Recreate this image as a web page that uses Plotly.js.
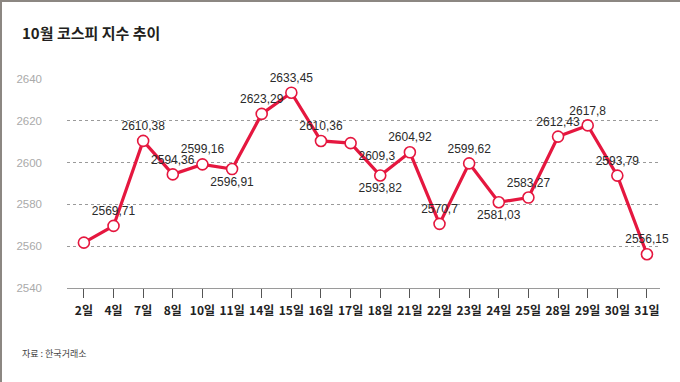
<!DOCTYPE html>
<html><head><meta charset="utf-8">
<script src="https://cdn.plot.ly/plotly-3.0.1.min.js"></script>
<style>
html,body{margin:0;padding:0;background:#fff;}
#wrap{position:relative;width:680px;height:382px;overflow:hidden;}
#chart{position:absolute;left:0;top:0;width:680px;height:382px;}
#frame{position:absolute;left:0;top:0;width:680px;height:382px;box-sizing:border-box;border-left:2px solid #8c8782;border-top:2px solid #8c8782;pointer-events:none;}
</style></head>
<body><div id="wrap"><div id="chart"></div><div id="frame"></div></div>
<script>
const days = ['2일','4일','7일','8일','10일','11일','14일','15일','16일','17일','18일','21일','22일','23일','24일','25일','28일','29일','30일','31일'];
const kospi = [2561.69,2569.71,2610.38,2594.36,2599.16,2596.91,2623.29,2633.45,2610.36,2609.3,2593.82,2604.92,2570.7,2599.62,2581.03,2583.27,2612.43,2617.8,2593.79,2556.15];
const showLabel = [false,true,true,true,true,true,true,true,true,true,true,true,true,true,true,true,true,true,true,true];
const labelPos = ['top center','top center','top center','top center','top center','bottom center','top center','top center','top center','bottom right','bottom center','top center','top center','top center','bottom center','top center','top center','top center','top center','top center'];
const yTicks = [2540,2560,2580,2600,2620,2640];

const labels = kospi.map((v,i)=> showLabel[i] ? String(v).replace('.', ',') : '');
const red = '#e5173f';
const numFont = 'Liberation Sans, Arial, "Noto Sans CJK KR", sans-serif';

const trace = {
  x: days, y: kospi, type:'scatter', mode:'lines+markers+text',
  line:{color:red, width:3.2},
  marker:{size:11, color:'#ffffff', line:{color:red, width:1.6}},
  text: labels, textposition: labelPos,
  textfont:{family:numFont, size:12, color:'#2a2a2a'},
  cliponaxis:false, hoverinfo:'skip'
};

const layout = {
  width:680, height:382,
  margin:{l:67, r:20, t:79, b:94},
  paper_bgcolor:'#ffffff', plot_bgcolor:'#ffffff',
  showlegend:false,
  font:{family:'"Noto Sans CJK KR", sans-serif'},
  xaxis:{
    type:'category', range:[-0.57, 19.44], fixedrange:true,
    showgrid:false, zeroline:false,
    showline:true, linecolor:'#9a9a9a', linewidth:1,
    ticks:'outside', ticklen:9, tickcolor:'#555', tickwidth:1,
    tickfont:{family:'"Noto Sans CJK KR", sans-serif', size:12, color:'#222', weight:'bold'},
    ticklabelstandoff:3
  },
  yaxis:{
    range:[2540,2640], tickvals:yTicks, ticktext:yTicks.map(String),
    showgrid:true, gridcolor:'#9a9a9a', griddash:'dot', gridwidth:1,
    zeroline:false, showline:false, ticks:'',
    tickfont:{family:numFont, size:11.5, color:'#aaaaaa'},
    ticklabelstandoff:24, fixedrange:true
  },
  annotations:[
    {text:'<b>10월 코스피 지수 추이</b>', xref:'paper', yref:'paper', x:-67/593, y:1+(79-33)/209,
     xanchor:'left', yanchor:'middle', showarrow:false, xshift:20,
     font:{family:'"Noto Sans CJK KR", sans-serif', size:15, color:'#231f20'}},
    {text:'자료 : 한국거래소', xref:'paper', yref:'paper', x:-67/593, y:-(353-288)/209,
     xanchor:'left', yanchor:'middle', showarrow:false, xshift:20,
     font:{family:'"Noto Sans CJK KR", sans-serif', size:9, color:'#444'}}
  ]
};

Plotly.newPlot('chart', [trace], layout, {displayModeBar:false, staticPlot:true});
</script></body></html>
